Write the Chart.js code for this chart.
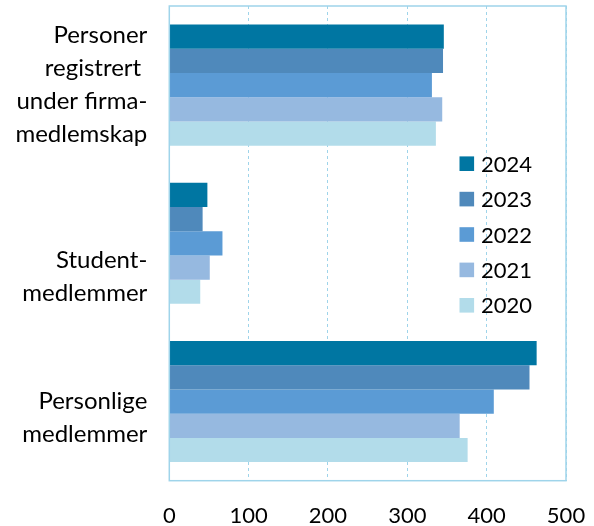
<!DOCTYPE html>
<html>
<head>
<meta charset="utf-8">
<script src="https://cdn.jsdelivr.net/npm/chart.js@4/dist/chart.umd.min.js"></script>
<style>
  html, body { margin: 0; padding: 0; background: #fff; }
  #wrap { width: 594px; height: 526px; }
</style>
</head>
<body>
<div id="wrap"><canvas id="medlemmer"></canvas></div>
<script>

const categories = [
    ['Personer', 'registrert ', 'under firma-', 'medlemskap'],
    ['Student-', 'medlemmer'],
    ['Personlige', 'medlemmer']
];
const years = ['2024', '2023', '2022', '2021', '2020'];
const v2024 = [346, 48, 463];
const v2023 = [345, 42, 454];
const v2022 = [331, 67, 409];
const v2021 = [344, 51, 366];
const v2020 = [336, 39, 376];
const xTicks = [0, 100, 200, 300, 400, 500];

const colors = ['#0076A2', '#4F89BB', '#5B9BD5', '#96B9E0', '#B2DCEA'];
const lineBlue = '#9FD4EA';
const FONT = 'Lato, "Open Sans", sans-serif';
// labels in the original sit a bit below the middle of their group
const labelDrop = [0, 2, 1];

// frame round the plot area
const frame = {
    id: 'frame',
    afterDatasetsDraw(chart) {
        const a = chart.chartArea, ctx = chart.ctx;
        ctx.save();
        ctx.strokeStyle = lineBlue;
        ctx.lineWidth = 1.5;
        ctx.strokeRect(a.left, a.top, a.right - a.left, a.bottom - a.top);
        ctx.restore();
    }
};

// legend sits inside the plot, right side
const innerLegend = {
    id: 'innerLegend',
    afterDraw(chart) {
        const ctx = chart.ctx;
        ctx.save();
        ctx.font = '22px ' + FONT;
        ctx.textBaseline = 'middle';
        chart.data.datasets.forEach(function (ds, i) {
            const y = 163.7 + i * 35.4;
            ctx.fillStyle = ds.backgroundColor;
            ctx.fillRect(459.5, y - 7.3, 14.6, 14.6);
            ctx.fillStyle = '#000';
            ctx.fillText(ds.label, 481, y + 1);
        });
        ctx.restore();
    }
};

function noPad(scale) {
    scale.paddingLeft = 0;
    scale.paddingRight = 0;
    scale.paddingTop = 0;
    scale.paddingBottom = 0;
}

function HBarGraph(canvasID) {

    const values = [v2024, v2023, v2022, v2021, v2020];
    const ctx = document.getElementById(canvasID).getContext('2d');
    const chart = new Chart(ctx, {
        type: 'bar',

        // The data for our dataset
        data: {
            labels: categories,
            datasets: years.map(function (y, i) {
                return {
                    label: y,
                    backgroundColor: colors[i],
                    borderWidth: 0,
                    data: values[i]
                };
            })
        },

        // Configuration options go here
        options: {
            indexAxis: 'y',
            responsive: true,
            maintainAspectRatio: false,
            animation: false,
            layout: { autoPadding: false, padding: { top: 6, right: 28, left: 0, bottom: 0 } },
            datasets: { bar: { barPercentage: 1, categoryPercentage: 0.765 } },
            plugins: {
                legend: { display: false },
                tooltip: { enabled: false }
            },
            scales: {
                x: {
                    min: 0,
                    max: 500,
                    afterBuildTicks: function (scale) {
                        scale.ticks = xTicks.map(function (v) { return { value: v }; });
                    },
                    afterFit: function (scale) { scale.height = 45.3; noPad(scale); },
                    grid: { color: lineBlue, lineWidth: 1, drawTicks: false },
                    border: { display: false, dash: [3, 3] },
                    ticks: {
                        padding: 22,
                        color: '#000',
                        font: { family: FONT, size: 22 }
                    }
                },
                y: {
                    afterFit: function (scale) { scale.width = 169.3; noPad(scale); },
                    grid: { display: false, drawTicks: false },
                    border: { display: false },
                    ticks: {
                        padding: 22,
                        color: '#000',
                        font: { family: FONT, size: 24, lineHeight: 1.375 },
                        callback: function (value, index) {
                            return new Array(labelDrop[index]).fill('').concat(categories[index]);
                        }
                    }
                }
            }
        },
        plugins: [frame, innerLegend]
    });

}

HBarGraph('medlemmer');
</script>
</body>
</html>
